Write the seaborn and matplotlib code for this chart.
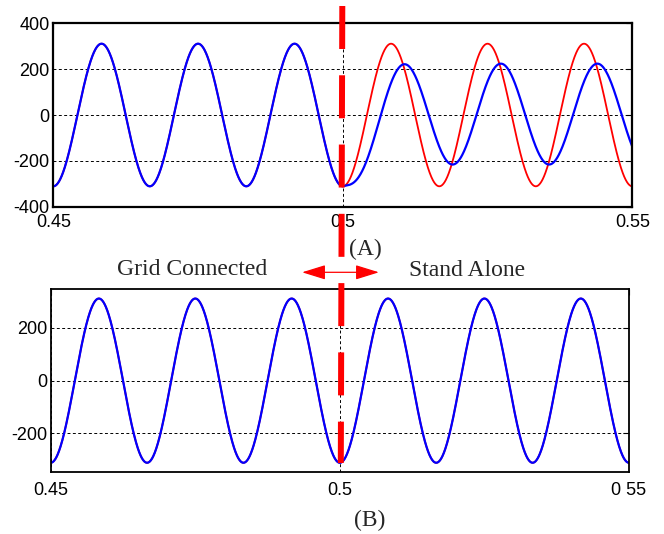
import numpy as np
import pandas as pd
import seaborn as sns
import matplotlib.pyplot as plt
from matplotlib.lines import Line2D
from matplotlib.patches import FancyArrowPatch

# time window and switching instant (s)
t_start, t_end = 0.45, 0.55
t_switch = 0.5
n_samples = 2001

# waveform parameters
freq_hz = 60.0
grid_peak = 311.0      # red trace, and blue before the switch
island_peak = 220.0    # blue trace in (A) after the switch
island_offset = 4.0
island_lag = 0.0023    # s, blue peaks lag the red ones
island_tau = 0.0025    # s, settling right after the switch

x_ticks = [0.45, 0.5, 0.55]
x_labels_a = ["0.45", "0.5", "0.55"]
x_labels_b = ["0.45", "0.5", "0 55"]
y_ticks_a = [-400, -200, 0, 200, 400]
y_ticks_b = [-200, 0, 200]

# build traces
t = np.linspace(t_start, t_end, n_samples)
grid_v = -grid_peak * np.cos(2 * np.pi * freq_hz * t)
dt = t - t_switch
island_ss = -island_peak * np.cos(2 * np.pi * freq_hz * (dt - island_lag)) + island_offset
ss0 = -island_peak * np.cos(2 * np.pi * freq_hz * (-island_lag)) + island_offset
island_v = island_ss + (-grid_peak - ss0) * np.exp(-np.clip(dt, 0, None) / island_tau)
blue_a = np.where(dt >= 0, island_v, grid_v)

df_a = pd.DataFrame({"t": t, "red": grid_v, "blue": blue_a})
df_b = pd.DataFrame({"t": t, "red": grid_v, "blue": grid_v})

sns.set_style("white")
plt.rcParams["font.family"] = ["Liberation Sans", "DejaVu Sans"]

W, H = 664, 534
fig = plt.figure(figsize=(W / 100, H / 100), dpi=100)


def px_axes(x0, y0, x1, y1):
    return fig.add_axes([x0 / W, 1 - y1 / H, (x1 - x0) / W, (y1 - y0) / H])


ax_a = px_axes(53.3, 23.3, 632.3, 206.7)
ax_b = px_axes(50.7, 289.3, 629, 472)

for ax, df, yticks, xlabels, ylim, spw, xpad in [
    (ax_a, df_a, y_ticks_a, x_labels_a, (-400, 400), 1.6, 5.5),
    (ax_b, df_b, y_ticks_b, x_labels_b, (-346, 346), 1.3, 7),
]:
    sns.lineplot(data=df, x="t", y="red", color="red", lw=1.3, ax=ax, estimator=None)
    sns.lineplot(data=df, x="t", y="blue", color="blue", lw=1.6, ax=ax, estimator=None)
    ax.set_xlim(t_start, t_end)
    ax.set_ylim(*ylim)
    ax.set_xticks(x_ticks)
    ax.set_xticklabels(xlabels)
    ax.set_yticks(yticks)
    ax.set_yticklabels([str(v) for v in yticks])
    ax.set_xlabel("")
    ax.set_ylabel("")
    ax.grid(True, color="black", linestyle=(0, (3, 2.5)), lw=0.7)
    ax.tick_params(direction="in", length=4, top=True, right=True,
                   labelsize=13, pad=2.5, colors="black")
    ax.tick_params(axis="x", pad=xpad)
    for s in ax.spines.values():
        s.set_color("black")
        s.set_linewidth(spw)

# annotations
serif = ["Liberation Serif", "DejaVu Serif"]
fig.text(365 / W, 1 - 249 / H, "(A)", ha="center", va="center", fontsize=17, family=serif)
fig.text(370 / W, 1 - 520 / H, "(B)", ha="center", va="center", fontsize=17, family=serif)
fig.text(192 / W, 1 - 275 / H, "Grid Connected", ha="center", va="baseline", fontsize=17, family=serif)
fig.text(467 / W, 1 - 276 / H, "Stand Alone", ha="center", va="baseline", fontsize=17, family=serif)

arrow = FancyArrowPatch((299.3 / W, 1 - 272.3 / H), (381.7 / W, 1 - 272.3 / H),
                        transform=fig.transFigure,
                        arrowstyle="<|-|>,head_length=1.45,head_width=0.45",
                        mutation_scale=10, color="red", lw=0.9)
fig.patches.append(arrow)

switch_line = Line2D([342.3 / W, 340.8 / W], [1 - 6 / H, 1 - 463 / H],
                     transform=fig.transFigure, color="red", lw=4.3,
                     linestyle=(0, (7.2, 4.4)), zorder=10)
fig.add_artist(switch_line)

fig.savefig("out.png", dpi=100)
